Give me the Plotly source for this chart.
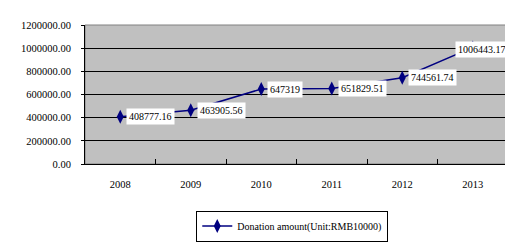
import plotly.graph_objects as go

years = ["2008", "2009", "2010", "2011", "2012", "2013"]
donations = [408777.16, 463905.56, 647319, 651829.51, 744561.74, 1006443.17]
labels = ["408777.16", "463905.56", "647319", "651829.51", "744561.74", "1006443.17"]
y_ticks = [0, 200000, 400000, 600000, 800000, 1000000, 1200000]
y_tick_text = ["0.00", "200000.00", "400000.00", "600000.00", "800000.00", "1000000.00", "1200000.00"]
series_name = "Donation amount(Unit:RMB10000)"

FONT = "Liberation Serif"

fig = go.Figure()
fig.add_trace(go.Scatter(
    x=years, y=donations, mode="lines+markers", name=series_name,
    line=dict(color="#000080", width=1.5),
    marker=dict(symbol="diamond-tall", size=10, color="#000080"),
))

n = len(years)
for i, (yv, t) in enumerate(zip(donations, labels)):
    last = (i == n - 1)
    fig.add_annotation(
        x=i, y=yv, text=t, showarrow=False, xref="x", yref="y",
        xanchor="right" if last else "left", yanchor="middle",
        xshift=36 if last else 6, yshift=-2 if last else 0,
        bgcolor="white", borderpad=2,
        font=dict(family=FONT, size=10, color="black"),
    )

# plot area border (gray)
fig.add_shape(type="rect", xref="paper", yref="paper", x0=0, y0=0, x1=1, y1=1,
              line=dict(color="#808080", width=1), layer="below")

fig.update_layout(
    width=513, height=245,
    margin=dict(l=77, r=13, t=13, b=80),
    paper_bgcolor="white", plot_bgcolor="#C0C0C0",
    font=dict(family=FONT, size=10, color="black"),
    showlegend=True,
    legend=dict(
        x=0.49, xanchor="center", y=-0.335, yanchor="top",
        orientation="h", bordercolor="black", borderwidth=1,
        bgcolor="white", font=dict(family=FONT, size=10),
        itemwidth=30,
    ),
    xaxis=dict(
        type="category", range=[-0.5, n - 0.5],
        showgrid=False, showline=True, linecolor="black", linewidth=1,
        ticks="inside", tickson="boundaries", ticklen=5, tickcolor="black",
        tickfont=dict(family=FONT, size=10.5), zeroline=False,
        ticklabelstandoff=10,
    ),
    yaxis=dict(
        range=[0, 1200000], tickvals=y_ticks, ticktext=y_tick_text,
        showgrid=True, gridcolor="black", gridwidth=1,
        showline=True, linecolor="black", linewidth=1,
        ticks="outside", ticklen=3, tickcolor="black",
        tickfont=dict(family=FONT, size=10.5), zeroline=False,
        ticklabelstandoff=8,
    ),
)

fig.write_html("out.html")
